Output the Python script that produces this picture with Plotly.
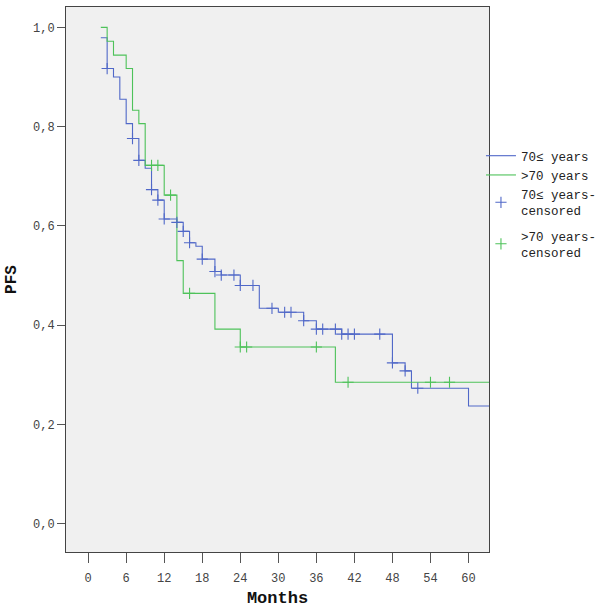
import plotly.graph_objects as go

# ---- data ----
blue_times = [2, 3, 4, 5, 6, 7, 8, 9, 10, 11, 12, 14, 15, 16, 17, 18, 20, 21, 24, 27, 30, 34, 36, 40, 48, 50, 51, 60, 66]
blue_surv = [0.979, 0.917, 0.900, 0.855, 0.806, 0.776, 0.732, 0.716, 0.673, 0.652, 0.614, 0.607, 0.589, 0.566,
             0.559, 0.533, 0.508, 0.501, 0.480, 0.434, 0.426, 0.409, 0.392, 0.382, 0.324, 0.308, 0.273, 0.237, 0.237]
blue_cens_t = [3, 7, 8, 10, 11, 12, 14, 15, 16, 18, 20, 21, 23, 24, 26, 29, 31, 32, 34, 36, 37, 39, 40, 41, 42, 46, 48, 50, 52]
blue_cens_s = [0.917, 0.776, 0.732, 0.673, 0.652, 0.614, 0.607, 0.589, 0.566, 0.533, 0.508, 0.501, 0.501, 0.480,
               0.480, 0.434, 0.426, 0.426, 0.409, 0.392, 0.392, 0.392, 0.382, 0.382, 0.382, 0.382, 0.324, 0.308, 0.273]

green_times = [2, 3, 4, 6, 7, 8, 9, 12, 14, 15, 20, 24, 39, 66]
green_surv = [1.0, 0.972, 0.944, 0.917, 0.833, 0.806, 0.722, 0.662, 0.530, 0.464, 0.392, 0.356, 0.285, 0.285]
green_cens_t = [10, 11, 13, 16, 24, 25, 36, 41, 54, 57]
green_cens_s = [0.722, 0.722, 0.662, 0.464, 0.356, 0.356, 0.356, 0.285, 0.285, 0.285]

x_ticks = [0, 6, 12, 18, 24, 30, 36, 42, 48, 54, 60]
y_ticks = [0.0, 0.2, 0.4, 0.6, 0.8, 1.0]

names = ["70\u2264 years", ">70 years", "70\u2264 years-<br>censored", ">70 years-<br>censored"]

BLUE = "#5068c8"
GREEN = "#4ec25a"
FONT = "Liberation Mono"

fig = go.Figure()
fig.add_trace(go.Scatter(x=blue_times, y=blue_surv, mode="lines", line=dict(shape="hv", color=BLUE, width=1.1),
                         name=names[0], legendgroup="a"))
fig.add_trace(go.Scatter(x=green_times, y=green_surv, mode="lines", line=dict(shape="hv", color=GREEN, width=1.1),
                         name=names[1], legendgroup="a"))
fig.add_trace(go.Scatter(x=blue_cens_t, y=blue_cens_s, mode="markers", name=names[2], legendgroup="a",
                         marker=dict(symbol="cross-thin", size=8, color=BLUE, line=dict(color=BLUE, width=1.1))))
fig.add_trace(go.Scatter(x=green_cens_t, y=green_cens_s, mode="markers", name=names[3], legendgroup="b",
                         marker=dict(symbol="cross-thin", size=8, color=GREEN, line=dict(color=GREEN, width=1.1))))

fig.update_layout(
    width=600, height=608,
    margin=dict(l=66, r=111, t=7, b=56, autoexpand=False),
    paper_bgcolor="white",
    plot_bgcolor="#f0f0f0",
    separators=",.",
    font=dict(family=FONT, size=12, color="#333333"),
    showlegend=True,
    legend=dict(x=0.981, xanchor="left", y=0.754, yanchor="top", bgcolor="rgba(0,0,0,0)",
                font=dict(family=FONT, size=12.5, color="#222222"), itemwidth=30, tracegroupgap=6),
    xaxis=dict(range=[-3.49, 63.23], tickvals=x_ticks, ticks="outside", ticklen=10, tickcolor="#555555",
               showline=True, linecolor="#444444", linewidth=1, mirror=True, showgrid=False, zeroline=False,
               automargin=False, ticklabelstandoff=5,
               tickfont=dict(family=FONT, size=12, color="#444444"),
               title=dict(text="<b>Months</b>", font=dict(family=FONT, size=17, color="#111111"), standoff=7)),
    yaxis=dict(range=[-0.057, 1.041], tickvals=y_ticks, tickformat=".1f", ticks="outside", ticklen=8,
               tickcolor="#555555", showline=True, linecolor="#444444", linewidth=1, mirror=True,
               showgrid=False, zeroline=False, automargin=False,
               tickfont=dict(family=FONT, size=12, color="#444444"),
               title=dict(text="<b>PFS</b>", font=dict(family=FONT, size=16, color="#111111"), standoff=12)),
)

fig.write_html("out.html", config={"displayModeBar": False},
               post_script="document.body.style.margin='0';document.body.style.overflow='hidden';")
